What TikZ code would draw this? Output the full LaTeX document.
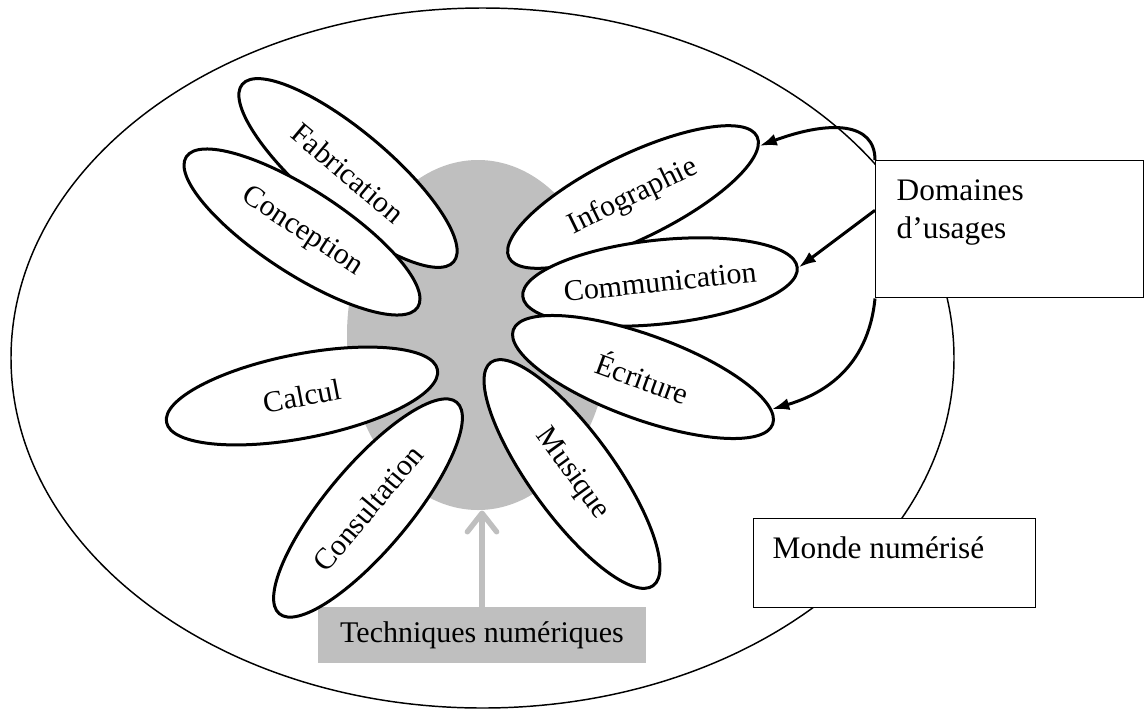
\documentclass[tikz,border=0pt]{standalone}
\usepackage{fontspec}
\setmainfont{Liberation Serif}
\usetikzlibrary{shapes.geometric,arrows.meta}

\definecolor{gris}{RGB}{191,191,191}

\tikzset{every picture/.style={line width=0.75pt}}
\tikzset{
  petale/.style={draw, ellipse, fill=white, line width=2.25pt, inner sep=0pt,
    minimum width=207pt, minimum height=63pt, font=\fontsize{22.5}{27}\selectfont},
  cadre/.style={draw, fill=white, rectangle, line width=1.1pt, anchor=north west,
    inner ysep=0pt, font=\fontsize{23.5}{28}\selectfont},
  fleche/.style={line width=2.25pt, -{Latex[length=13pt,width=9pt]}},
}

\begin{document}
\begin{tikzpicture}[x=0.75pt,y=0.75pt,yscale=-1,xscale=1]
    \useasboundingbox (0,0) rectangle (1146,708);

    %Shape: Ellipse [monde]
    \draw [line width=1.1pt] (482.5,358) ellipse (471.5 and 350);
    %Shape: Ellipse [noyau]
    \draw (478,335) node [ellipse, fill=gris, minimum width=196.5pt, minimum height=262.5pt] (noyau) {};

    % Text Node
    \draw (482,635) node [fill=gris, minimum width=246pt, minimum height=42pt, font=\fontsize{22.5}{27}\selectfont] (tech) {Techniques numériques};
    %Straight Lines [tech -> noyau]
    \draw [gris, line width=4pt, line cap=round, -{Straight Barb[length=14pt,width=22pt,round]}] (tech.north) -- (tech.north |- noyau.south);

    %Shape: Ellipse [petales]
    \draw (348,173) node [petale, rotate=-40] (fab) {Fabrication};
    \draw (302,232) node [petale, rotate=-33] (conc) {Conception};
    \draw (302,396) node [petale, rotate=11] (calc) {Calcul};
    \draw (368,508) node [petale, rotate=50] (cons) {Consultation};
    \draw (633,197) node [petale, rotate=26] (info) {Infographie};
    \draw (660,282) node [petale, rotate=6] (comm) {Communication};
    \draw (643,377) node [petale, rotate=-20] (ecri) {Écriture};
    \draw (572,474) node [petale, rotate=-54] (musi) {Musique};

    % Text Node
    \draw (875,160) node [cadre, text height=30pt, text depth=72.75pt, inner xsep=15.75pt] (dom) {\parbox[t]{169.5pt}{Domaines\\d’usages}};
    % Text Node
    \draw (753,518) node [cadre, text height=30pt, text depth=36.75pt, inner xsep=14.25pt] (monde) {\parbox[t]{183pt}{Monde numérisé}};

    %Curve Lines [dom -> petales]
    \draw [fleche] (dom.north west) .. controls (875,122) and (830,120) .. (info.-4);
    \draw [fleche] (dom.172) -- (comm.east);
    \draw [fleche] (dom.south west) .. controls (868,370) and (820,395) .. (ecri.6);

\end{tikzpicture}
\end{document}
